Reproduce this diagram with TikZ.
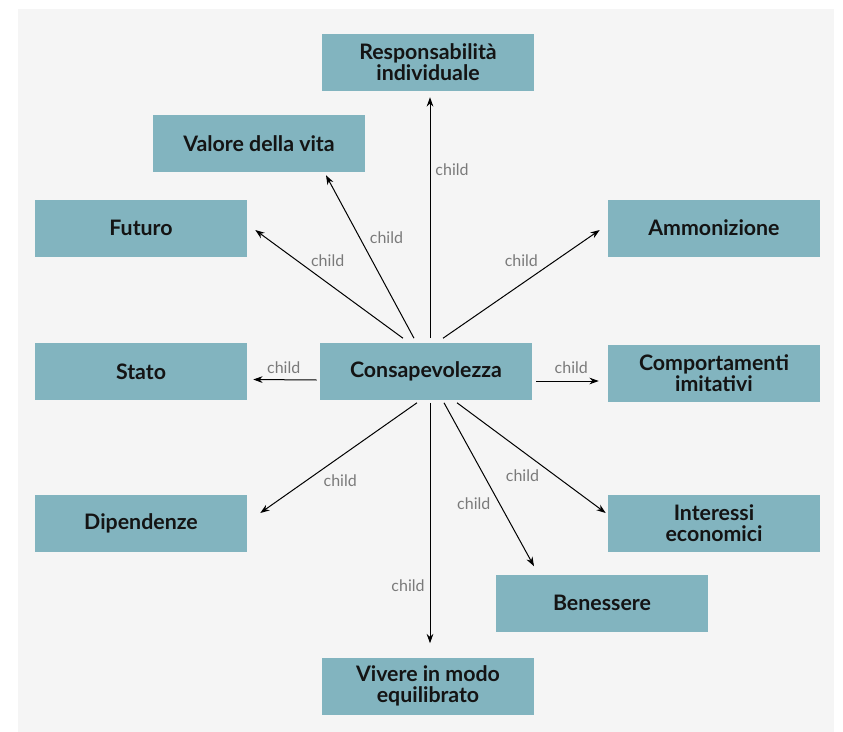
\documentclass[tikz,border=0pt]{standalone}
\usepackage{fontspec}
\setmainfont{Lato}
\usetikzlibrary{calc, arrows.meta}
\definecolor{boxfill}{HTML}{82B4BF}
\definecolor{bgfill}{HTML}{F5F5F5}
\definecolor{lblgray}{HTML}{7A7A7A}
\begin{document}
\begin{tikzpicture}[x=0.75pt, y=-0.75pt,
    topic/.style = {fill=boxfill, text=black!92, font=\bfseries\fontsize{16}{15.8}\selectfont,
        align=center, minimum width=159pt, minimum height=42.75pt, inner sep=0pt},
    arr/.style = {-{Stealth[length=7pt, width=5pt]}, line width=0.75pt},
    lbl/.style = {text=lblgray, font=\fontsize{12}{13}\selectfont, inner sep=0pt}]
    \useasboundingbox (0,0) rectangle (843,732);
    \fill[bgfill] (18,9) rectangle (834,732);
    \node[topic] (c)     at (426,371)   {Consapevolezza};
    \node[topic] (resp)  at (428,62.5)  {Responsabilità\\individuale};
    \node[topic] (val)   at (259,143.5) {Valore della vita};
    \node[topic] (fut)   at (141,228)   {Futuro};
    \node[topic] (amm)   at (714,228)   {Ammonizione};
    \node[topic] (stato) at (141,371.5) {Stato};
    \node[topic] (comp)  at (714,373)   {Comportamenti\\imitativi};
    \node[topic] (dip)   at (141,523)   {Dipendenze};
    \node[topic] (int)   at (714,523)   {Interessi\\economici};
    \node[topic] (ben)   at (602,603)   {Benessere};
    \node[topic] (viv)   at (428,686)   {Vivere in modo\\equilibrato};
    \draw[arr] ($(c.north)+(4,-4)$) -- node[lbl, pos=0.70, shift={(22,0)}] {child} ($(resp.south)+(2,6)$);
    \draw[arr] ($(c.north)+(-12,-4)$) -- node[lbl, pos=0.62, shift={(27,0)}] {child} ($(val.south)+(67,3)$);
    \draw[arr] ($(c.north)+(-23,-4)$) -- node[lbl, pos=0.51, shift={(0,-22)}] {child} ($(fut.east)+(8,2)$);
    \draw[arr] ($(c.north)+(17,-4)$) -- node[lbl, pos=0.50, shift={(0,-23)}] {child} ($(amm.west)+(-8,2)$);
    \draw[arr] ($(c.west)+(-3,9)$) -- node[lbl, pos=0.52, shift={(0,-12)}] {child} ($(stato.east)+(6,8)$);
    \draw[arr] ($(c.east)+(4,10)$) -- node[lbl, pos=0.56, shift={(0,-13)}] {child} ($(comp.west)+(-9,8)$);
    \draw[arr] ($(c.south)+(-9,3)$) -- node[lbl, pos=0.49, shift={(0,24)}] {child} ($(dip.east)+(13,-10)$);
    \draw[arr] ($(c.south)+(31,3)$) -- node[lbl, pos=0.44, shift={(0,24)}] {child} ($(int.west)+(-2,-10)$);
    \draw[arr] ($(c.south)+(18,3)$) -- node[lbl, pos=0.62, shift={(-26,0)}] {child} ($(ben.north)+(-68,-8)$);
    \draw[arr] ($(c.south)+(4,3)$) -- node[lbl, pos=0.76, shift={(-22,0)}] {child} ($(viv.north)+(2,-14)$);
\end{tikzpicture}
\end{document}
